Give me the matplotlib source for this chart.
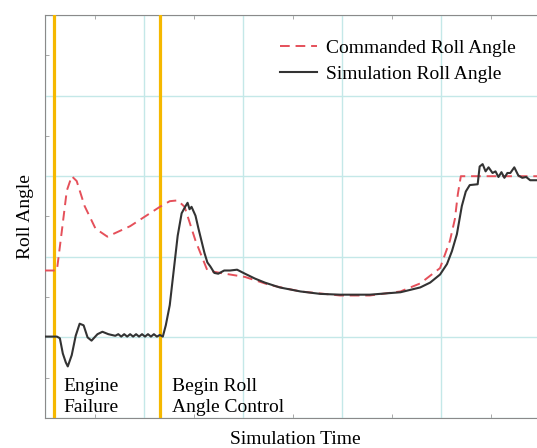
import matplotlib.pyplot as plt
from matplotlib.ticker import MultipleLocator

plt.rcParams['font.family'] = ['Liberation Serif', 'DejaVu Serif']

# Commanded roll angle (dashed red)
cmd_t = [0.00, 0.12, 0.17, 0.22, 0.27, 0.32, 0.40, 0.51, 0.63, 0.86, 1.06, 1.16,
         1.26, 1.34, 1.41, 1.52, 1.64, 1.77, 2.02, 2.27, 2.58, 2.98, 3.28, 3.59,
         3.79, 3.99, 4.09, 4.14, 4.17, 4.20, 5.05]
cmd_roll = [1.83, 1.83, 2.32, 2.82, 3.00, 2.94, 2.63, 2.35, 2.25, 2.38, 2.54, 2.62,
            2.69, 2.70, 2.62, 2.20, 1.83, 1.80, 1.75, 1.65, 1.57, 1.52, 1.52, 1.57,
            1.67, 1.86, 2.20, 2.47, 2.78, 3.00, 3.00]

# Simulated roll angle (solid black)
sim_t = [0.00, 0.12, 0.15, 0.18, 0.21, 0.23, 0.27, 0.31, 0.35, 0.39, 0.43, 0.47,
         0.53, 0.58, 0.64, 0.71, 0.74, 0.77, 0.80, 0.83, 0.86, 0.89, 0.92, 0.95,
         0.98, 1.01, 1.04, 1.07, 1.10, 1.13, 1.16, 1.19, 1.22, 1.26, 1.30, 1.34,
         1.38, 1.42, 1.44, 1.46, 1.48, 1.52, 1.55, 1.58, 1.61, 1.64, 1.67, 1.71,
         1.75, 1.81, 1.87, 1.94, 2.02, 2.12, 2.22, 2.37, 2.58, 2.78, 2.98, 3.28,
         3.59, 3.79, 3.89, 3.99, 4.06, 4.11, 4.16, 4.21, 4.25, 4.29, 4.37, 4.39,
         4.42, 4.45, 4.48, 4.52, 4.55, 4.58, 4.61, 4.64, 4.67, 4.70, 4.74, 4.78,
         4.82, 4.86, 4.90, 4.97, 5.05]
sim_roll = [1.01, 1.01, 0.99, 0.80, 0.69, 0.64, 0.78, 1.02, 1.17, 1.15, 1.00, 0.96,
            1.04, 1.07, 1.04, 1.02, 1.04, 1.01, 1.04, 1.01, 1.04, 1.01, 1.04, 1.01,
            1.04, 1.01, 1.04, 1.01, 1.04, 1.01, 1.03, 1.01, 1.15, 1.40, 1.83, 2.26,
            2.54, 2.63, 2.67, 2.59, 2.62, 2.51, 2.35, 2.20, 2.05, 1.93, 1.88, 1.80,
            1.79, 1.83, 1.83, 1.84, 1.79, 1.73, 1.68, 1.62, 1.57, 1.54, 1.53, 1.53,
            1.56, 1.62, 1.68, 1.78, 1.91, 2.07, 2.28, 2.63, 2.81, 2.89, 2.90, 3.12,
            3.15, 3.06, 3.11, 3.04, 3.06, 2.99, 3.05, 2.98, 3.04, 3.04, 3.11, 3.01,
            2.98, 2.99, 2.95, 2.95, 2.95]

events = [0.09, 1.16]
event_labels = ["Engine\nFailure", "Begin Roll\nAngle Control"]

fig = plt.figure(figsize=(5.37, 4.48), dpi=100)
ax = fig.add_axes([45 / 537, 30 / 448, 500 / 537, 403 / 448])

ax.set_xlim(0, 5.05)
ax.set_ylim(0, 5)
ax.xaxis.set_major_locator(MultipleLocator(1))
ax.yaxis.set_major_locator(MultipleLocator(1))
ax.xaxis.set_minor_locator(MultipleLocator(0.5))
ax.yaxis.set_minor_locator(MultipleLocator(0.5))
ax.grid(True, which='major', color='#c4e8e8', lw=1)
ax.tick_params(which='major', length=0, labelbottom=False, labelleft=False)
ax.tick_params(which='minor', direction='in', length=3, color='#999999',
               top=True, labelbottom=False, labelleft=False)
for s in ax.spines.values():
    s.set_color('#8a8a8a')

for x in events:
    ax.axvline(x, color='#f5b800', lw=2.3, zorder=3)

ax.plot(cmd_t, cmd_roll, color='#e5505a', lw=1.4, dashes=(5, 3),
        label='Commanded Roll Angle', zorder=4)
ax.plot(sim_t, sim_roll, color='#333333', lw=1.5,
        label='Simulation Roll Angle', zorder=5)

ax.text(0.19, 0.02, event_labels[0], fontsize=14, va='bottom', linespacing=1.35)
ax.text(1.28, 0.02, event_labels[1], fontsize=14, va='bottom', linespacing=1.35)

leg = ax.legend(loc='upper left', bbox_to_anchor=(0.45, 0.963), frameon=False,
                fontsize=14, handlelength=1.9, handletextpad=0.5,
                labelspacing=0.4, borderpad=0)

ax.set_xlabel('Simulation Time', fontsize=14, labelpad=9)
ax.set_ylabel('Roll Angle', fontsize=14, labelpad=8)

fig.savefig('out.png', dpi=100)
